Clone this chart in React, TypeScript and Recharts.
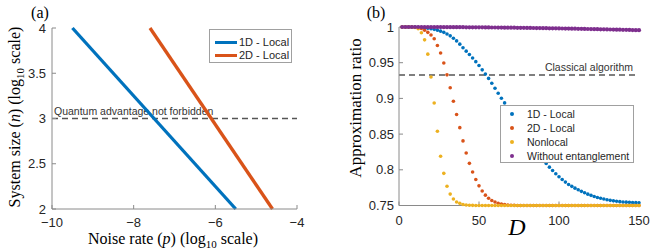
import React from 'react'
import { ComposedChart, Line, XAxis, YAxis, ReferenceLine, Legend } from 'recharts'

// panel (a): threshold lines, log10 noise rate vs log10 system size
const noise1D = [-9.5, -5.5]
const size1D = [4, 2]
const noise2D = [-7.6, -4.6]
const size2D = [4, 2]
const noiseTicks = [-10, -8, -6, -4]
const sizeTicks = [2, 2.5, 3, 3.5, 4]
const advantageLevel = 3
const seriesNamesA = ['1D - Local', '2D - Local']

// panel (b): approximation ratio vs depth D
const depth = [
  2, 4, 6, 8, 10, 12, 14, 16, 18, 20,
  22, 24, 26, 28, 30, 32, 34, 36, 38, 40,
  42, 44, 46, 48, 50, 52, 54, 56, 58, 60,
  62, 64, 66, 68, 70, 72, 74, 76, 78, 80,
  82, 84, 86, 88, 90, 92, 94, 96, 98, 100,
  102, 104, 106, 108, 110, 112, 114, 116, 118, 120,
  122, 124, 126, 128, 130, 132, 134, 136, 138, 140,
  142, 144, 146, 148, 150,
]
const local1D = [
  1.0, 1.0, 1.0, 0.9999, 0.9998, 0.9996, 0.9993, 0.9989, 0.9983, 0.9976,
  0.9967, 0.9956, 0.9942, 0.9925, 0.9903, 0.9876, 0.9843, 0.9805, 0.976, 0.971,
  0.9662, 0.9615, 0.9565, 0.9515, 0.946, 0.94, 0.934, 0.928, 0.9213, 0.9143,
  0.9073, 0.9003, 0.8937, 0.8872, 0.8808, 0.874, 0.867, 0.86, 0.853, 0.846,
  0.8392, 0.8326, 0.8262, 0.82, 0.8142, 0.8088, 0.8037, 0.799, 0.7945, 0.7903,
  0.7864, 0.7828, 0.7795, 0.7768, 0.7743, 0.772, 0.7698, 0.7678, 0.7659, 0.7642,
  0.7627, 0.7613, 0.7601, 0.759, 0.758, 0.7572, 0.7565, 0.7559, 0.7554, 0.755,
  0.7547, 0.7544, 0.7542, 0.754, 0.7538,
]
const local2D = [
  1.0, 1.0, 1.0, 0.9999, 0.9997, 0.9991, 0.9978, 0.9955, 0.9925, 0.9888,
  0.9836, 0.974, 0.9636, 0.9496, 0.933, 0.915, 0.896, 0.8775, 0.859, 0.8405,
  0.8235, 0.809, 0.797, 0.7865, 0.7775, 0.7703, 0.7645, 0.7602, 0.757, 0.7548,
  0.7532, 0.752, 0.7512, 0.7507, 0.7504, 0.7502, 0.7501, 0.75, 0.75, 0.75,
  0.75, 0.75, 0.75, 0.75, 0.75, 0.75, 0.75, 0.75, 0.75, 0.75,
  0.75, 0.75, 0.75, 0.75, 0.75, 0.75, 0.75, 0.75, 0.75, 0.75,
  0.75, 0.75, 0.75, 0.75, 0.75, 0.75, 0.75, 0.75, 0.75, 0.75,
  0.75, 0.75, 0.75, 0.75, 0.75,
]
const nonlocal = [
  1.0, 1.0, 1.0, 0.9998, 0.9992, 0.9977, 0.992, 0.982, 0.962, 0.93,
  0.8936, 0.854, 0.819, 0.795, 0.777, 0.766, 0.759, 0.755, 0.753, 0.7515,
  0.7508, 0.7504, 0.7502, 0.7501, 0.75, 0.75, 0.75, 0.75, 0.75, 0.75,
  0.75, 0.75, 0.75, 0.75, 0.75, 0.75, 0.75, 0.75, 0.75, 0.75,
  0.75, 0.75, 0.75, 0.75, 0.75, 0.75, 0.75, 0.75, 0.75, 0.75,
  0.75, 0.75, 0.75, 0.75, 0.75, 0.75, 0.75, 0.75, 0.75, 0.75,
  0.75, 0.75, 0.75, 0.75, 0.75, 0.75, 0.75, 0.75, 0.75, 0.75,
  0.75, 0.75, 0.75, 0.75, 0.75,
]
const noEntanglement = [
  1.0, 1.0, 1.0, 1.0, 1.0, 1.0, 1.0, 0.9999, 0.9999, 0.9999,
  0.9999, 0.9999, 0.9999, 0.9998, 0.9998, 0.9998, 0.9998, 0.9997, 0.9997, 0.9997,
  0.9996, 0.9996, 0.9996, 0.9995, 0.9995, 0.9995, 0.9994, 0.9994, 0.9993, 0.9993,
  0.9992, 0.9992, 0.9991, 0.9991, 0.999, 0.999, 0.9989, 0.9988, 0.9988, 0.9987,
  0.9987, 0.9986, 0.9985, 0.9985, 0.9984, 0.9983, 0.9982, 0.9982, 0.9981, 0.998,
  0.9979, 0.9978, 0.9978, 0.9977, 0.9976, 0.9975, 0.9974, 0.9973, 0.9972, 0.9971,
  0.997, 0.9969, 0.9968, 0.9967, 0.9966, 0.9965, 0.9964, 0.9963, 0.9962, 0.9961,
  0.996, 0.9959, 0.9957, 0.9956, 0.9955,
]
const depthTicks = [0, 50, 100, 150]
const ratioTicks = [0.75, 0.8, 0.85, 0.9, 0.95, 1]
const classicalLevel = 0.9326
const seriesNamesB = ['1D - Local', '2D - Local', 'Nonlocal', 'Without entanglement']

// matlab default palette
const colors = ['#0072BD', '#D95319', '#EDB120', '#7E2F8E']
const sans = '"Liberation Sans", Arial, Helvetica, sans-serif'
const serif = '"Liberation Serif", "Times New Roman", serif'
const axisGray = '#8a8a8a'
const tickStyle = { fill: '#262626', fontSize: 13, fontFamily: sans }
const minusFmt = (v: number) => (v < 0 ? '\u2212' + Math.abs(v) : String(v))

function PanelA() {
  const lines = [
    { name: seriesNamesA[0], color: colors[0], data: noise1D.map((p, i) => ({ p, n: size1D[i] })) },
    { name: seriesNamesA[1], color: colors[1], data: noise2D.map((p, i) => ({ p, n: size2D[i] })) },
  ]

  const legend = () => (
    <div style={{ width: 83, height: 34, boxSizing: 'border-box', border: '1px solid #a0a0a0', background: '#fff', paddingTop: 6, fontFamily: sans, fontSize: 11, color: '#262626' }}>
      {lines.map((s) => (
        <div key={s.name} style={{ display: 'flex', alignItems: 'center', height: 13, lineHeight: '13px' }}>
          <span style={{ display: 'inline-block', marginLeft: 5, width: 22, height: 3, background: s.color }} />
          <span style={{ marginLeft: 2, whiteSpace: 'nowrap' }}>{s.name}</span>
        </div>
      ))}
    </div>
  )

  return (
    <ComposedChart width={334} height={250} margin={{ top: 28, right: 37, bottom: 11, left: 22 }}>
      <XAxis
        dataKey="p" type="number" domain={[-10, -4]} ticks={noiseTicks} interval={0} height={30}
        stroke={axisGray} tickSize={-4} tickMargin={13} tick={tickStyle} tickFormatter={minusFmt}
        label={() => (
          <text x={173} y={244} textAnchor="middle" fontFamily={serif} fontSize={16} fill="#000">
            Noise rate (<tspan fontStyle="italic">p</tspan>) (log<tspan dy={4} fontSize={11}>10</tspan><tspan dy={-4}> scale)</tspan>
          </text>
        )}
      />
      <XAxis xAxisId="t" orientation="top" type="number" domain={[-10, -4]} ticks={noiseTicks} interval={0} height={0} stroke={axisGray} tickSize={-4} tick={false} />
      <YAxis
        type="number" domain={[2, 4]} ticks={sizeTicks} interval={0} width={30}
        stroke={axisGray} tickSize={-4} tickMargin={10} tick={tickStyle}
        label={() => (
          <g>
            <text x={40} y={18} textAnchor="middle" fontFamily={serif} fontSize={16} fill="#000">(a)</text>
            <text transform="translate(20,117) rotate(-90)" textAnchor="middle" fontFamily={serif} fontSize={16} fill="#000">
              System size (<tspan fontStyle="italic">n</tspan>) (log<tspan dy={4} fontSize={11}>10</tspan><tspan dy={-4}> scale)</tspan>
            </text>
          </g>
        )}
      />
      <YAxis yAxisId="r" orientation="right" type="number" domain={[2, 4]} ticks={sizeTicks} interval={0} width={0} stroke={axisGray} tickSize={-4} tick={false} />
      <ReferenceLine
        y={advantageLevel} stroke="#555" strokeWidth={1.5} strokeDasharray="6 4"
        label={({ viewBox }: any) => (
          <text x={viewBox.x + 2} y={viewBox.y - 4} fontFamily={sans} fontSize={10.5} fill="#333">Quantum advantage not forbidden</text>
        )}
      />
      {lines.map((s) => (
        <Line key={s.name} data={s.data} dataKey="n" name={s.name} stroke={s.color} strokeWidth={3.3} dot={false} activeDot={false} isAnimationActive={false} />
      ))}
      <Legend layout="horizontal" verticalAlign="middle" align="center" content={legend} wrapperStyle={{ left: 209, top: 29, width: 83, height: 34 }} />
    </ComposedChart>
  )
}

function PanelB() {
  const table = depth.map((D, i) => ({ D, s0: local1D[i], s1: local2D[i], s2: nonlocal[i], s3: noEntanglement[i] }))

  const legend = () => (
    <div style={{ width: 134, height: 58, boxSizing: 'border-box', border: '1px solid #a0a0a0', background: '#fff', paddingTop: 1, fontFamily: sans, fontSize: 10.5, color: '#262626' }}>
      {seriesNamesB.map((name, i) => (
        <div key={name} style={{ display: 'flex', alignItems: 'center', height: 14, lineHeight: '14px' }}>
          <span style={{ display: 'inline-block', marginLeft: 9, width: 4, height: 4, borderRadius: 2, background: colors[i] }} />
          <span style={{ marginLeft: 13, whiteSpace: 'nowrap' }}>{name}</span>
        </div>
      ))}
    </div>
  )

  return (
    <ComposedChart width={334} height={250} data={table} margin={{ top: 27, right: 29, bottom: 14.5, left: 25 }}>
      <XAxis
        dataKey="D" type="number" domain={[0, 150]} ticks={depthTicks} interval={0} height={30}
        stroke={axisGray} tickSize={-4} tickMargin={14} tick={tickStyle}
        label={() => (
          <text x={183} y={235} textAnchor="middle" fontFamily={serif} fontStyle="italic" fontSize={24} fill="#000">D</text>
        )}
      />
      <XAxis xAxisId="t" orientation="top" type="number" domain={[0, 150]} ticks={depthTicks} interval={0} height={0} stroke={axisGray} tickSize={-4} tick={false} />
      <YAxis
        type="number" domain={[0.75, 1]} ticks={ratioTicks} interval={0} width={40}
        stroke={axisGray} tickSize={-4} tickMargin={9} tick={tickStyle}
        label={() => (
          <g>
            <text x={42} y={18} textAnchor="middle" fontFamily={serif} fontSize={16} fill="#000">(b)</text>
            <text transform="translate(27,108) rotate(-90)" textAnchor="middle" fontFamily={serif} fontSize={17} fill="#000">Approximation ratio</text>
          </g>
        )}
      />
      <YAxis yAxisId="r" orientation="right" type="number" domain={[0.75, 1]} ticks={ratioTicks} interval={0} width={0} stroke={axisGray} tickSize={-4} tick={false} />
      <ReferenceLine
        y={classicalLevel} stroke="#555" strokeWidth={1.5} strokeDasharray="6 4"
        label={({ viewBox }: any) => (
          <text x={viewBox.x + viewBox.width - 6} y={viewBox.y - 4} textAnchor="end" fontFamily={sans} fontSize={10.5} fill="#333">Classical algorithm</text>
        )}
      />
      {seriesNamesB.map((name, i) => (
        <Line
          key={name} dataKey={`s${i}`} name={name} stroke="none" strokeWidth={0}
          dot={{ r: i === 3 ? 2.1 : 1.8, fill: colors[i], stroke: 'none', strokeWidth: 0 }}
          activeDot={false} isAnimationActive={false}
        />
      ))}
      <Legend layout="horizontal" verticalAlign="middle" align="center" content={legend} wrapperStyle={{ left: 166, top: 105, width: 134, height: 58 }} />
    </ComposedChart>
  )
}

export default function App() {
  return (
    <div style={{ position: 'absolute', left: 0, top: 0, width: 668, height: 250, background: '#fff' }}>
      <div style={{ position: 'absolute', left: 0, top: 0 }}>
        <PanelA />
      </div>
      <div style={{ position: 'absolute', left: 334, top: 0 }}>
        <PanelB />
      </div>
    </div>
  )
}
